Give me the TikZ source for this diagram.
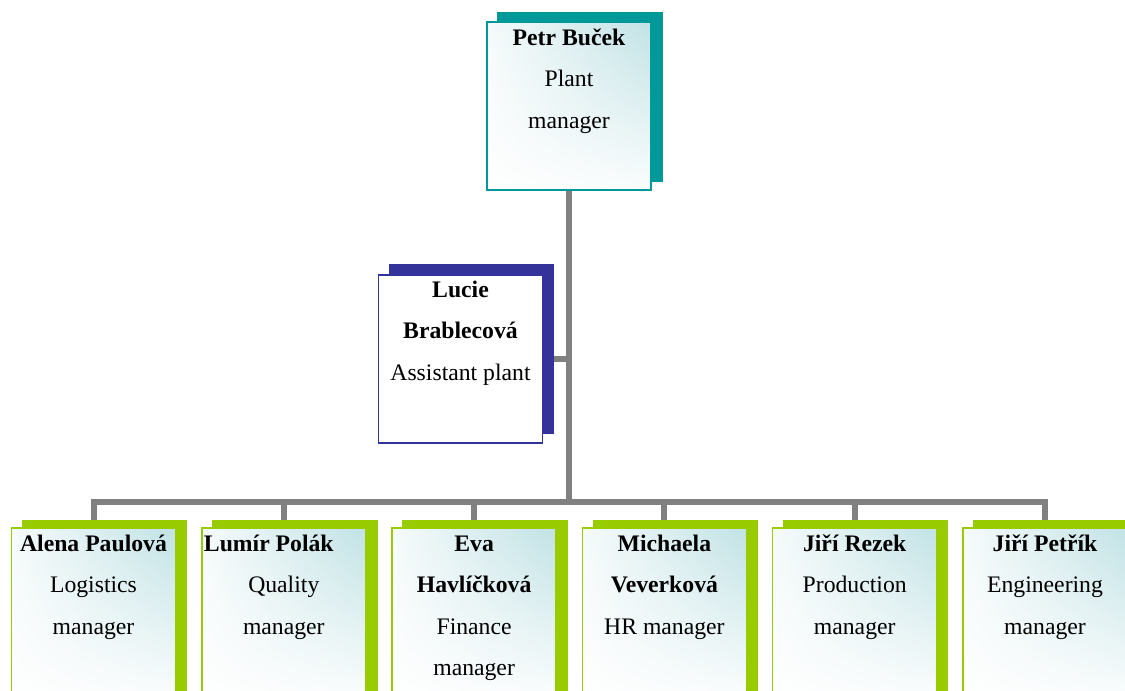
\documentclass[tikz,border=0pt]{standalone}
\usepackage{fontspec}
\setmainfont{Liberation Serif}
\usetikzlibrary{fadings}
\pgfdeclarelayer{bg}
\pgfdeclarelayer{shad}
\pgfsetlayers{bg,shad,main}
\definecolor{tealc}{HTML}{009999}
\definecolor{bluec}{HTML}{333399}
\definecolor{greenc}{HTML}{99CC00}
\definecolor{gradc}{HTML}{B4DCE0}
\definecolor{linec}{HTML}{808080}
\tikzfading[name=fadetop, top color=transparent!100, bottom color=transparent!0]
\begin{document}
\begin{tikzpicture}[x=1pt,y=-1pt,
  card/.style={rectangle, inner sep=0pt, minimum width=164pt, minimum height=168pt, line width=1.4pt, fill=white},
  shadecard/.style={path picture={
    \shade[left color=white, right color=gradc] ([xshift=-27.5pt]path picture bounding box.south west) rectangle ([xshift=182.5pt]path picture bounding box.north west);
    \fill[white, path fading=fadetop] ([yshift=20pt]path picture bounding box.north west) rectangle ([yshift=-180pt]path picture bounding box.north east);
  }},
  tealcard/.style={card, shadecard, draw=tealc},
  bluecard/.style={card, draw=bluec},
  greencard/.style={card, shadecard, draw=greenc, minimum height=180pt},
  txt/.style={anchor=base, inner sep=0pt, font=\fontsize{23.7}{41.5}\selectfont},
  conn/.style={draw=linec, line width=6pt},
]
\useasboundingbox (0,0) rectangle (1125,691);
\clip (0,0) rectangle (1125,691);

% boxes
\node[tealcard] (p) at (569,106) {};
\node[bluecard] (l) at (460.5,359) {};
\node[greencard] (b1) at (93.5,618) {};
\node[greencard] (b2) at (283.8,618) {};
\node[greencard] (b3) at (474.1,618) {};
\node[greencard] (b4) at (664.4,618) {};
\node[greencard] (b5) at (854.7,618) {};
\node[greencard] (b6) at (1045,618) {};

% shadows
\begin{pgfonlayer}{shad}
\fill[tealc] ([xshift=11pt,yshift=9pt]p.south west) rectangle ([xshift=11pt,yshift=9pt]p.north east);
\fill[bluec] ([xshift=11pt,yshift=10pt]l.south west) rectangle ([xshift=11pt,yshift=10pt]l.north east);
\foreach \b in {b1,b2,b3,b4,b5,b6}{
  \fill[greenc] ([xshift=11pt,yshift=7pt]\b.south west) rectangle ([xshift=11pt,yshift=7pt]\b.north east);
}
\end{pgfonlayer}

% connectors
\coordinate (bar) at (570,502);
\begin{pgfonlayer}{bg}
\draw[conn] (p.south) -- (p.south |- bar);
\draw[conn] (l.east) -- (l.east -| p.south);
\draw[conn, line join=miter] (b1.north) -- (b1.north |- bar) -- (b6.north |- bar) -- (b6.north);
\foreach \b in {b2,b3,b4,b5}{
  \draw[conn] (\b.north |- bar) -- (\b.north);
}
\end{pgfonlayer}

% texts
\node[txt] (tp) at ([yshift=-24pt]p.north) {\begin{tabular}[t]{@{}c@{}}\textbf{Petr Buček}\\Plant\\manager\end{tabular}};
\node[txt] (tl) at ([yshift=-23pt]l.north) {\begin{tabular}[t]{@{}c@{}}\textbf{Lucie}\\\textbf{Brablecová}\\Assistant plant\end{tabular}};
\node[txt] (t1) at ([yshift=-24pt]b1.north) {\begin{tabular}[t]{@{}c@{}}\textbf{Alena Paulová}\\Logistics\\manager\end{tabular}};
\node[txt] (t2) at ([yshift=-24pt]b2.north) {\begin{tabular}[t]{@{}c@{}}\textbf{Lumír Polák}\hspace*{30pt}\\Quality\\manager\end{tabular}};
\node[txt] (t3) at ([yshift=-24pt]b3.north) {\begin{tabular}[t]{@{}c@{}}\textbf{Eva}\\\textbf{Havlíčková}\\Finance\\manager\end{tabular}};
\node[txt] (t4) at ([yshift=-24pt]b4.north) {\begin{tabular}[t]{@{}c@{}}\textbf{Michaela}\\\textbf{Veverková}\\HR manager\end{tabular}};
\node[txt] (t5) at ([yshift=-24pt]b5.north) {\begin{tabular}[t]{@{}c@{}}\textbf{Jiří Rezek}\\Production\\manager\end{tabular}};
\node[txt] (t6) at ([yshift=-24pt]b6.north) {\begin{tabular}[t]{@{}c@{}}\textbf{Jiří Petřík}\\Engineering\\manager\end{tabular}};
\end{tikzpicture}
\end{document}
